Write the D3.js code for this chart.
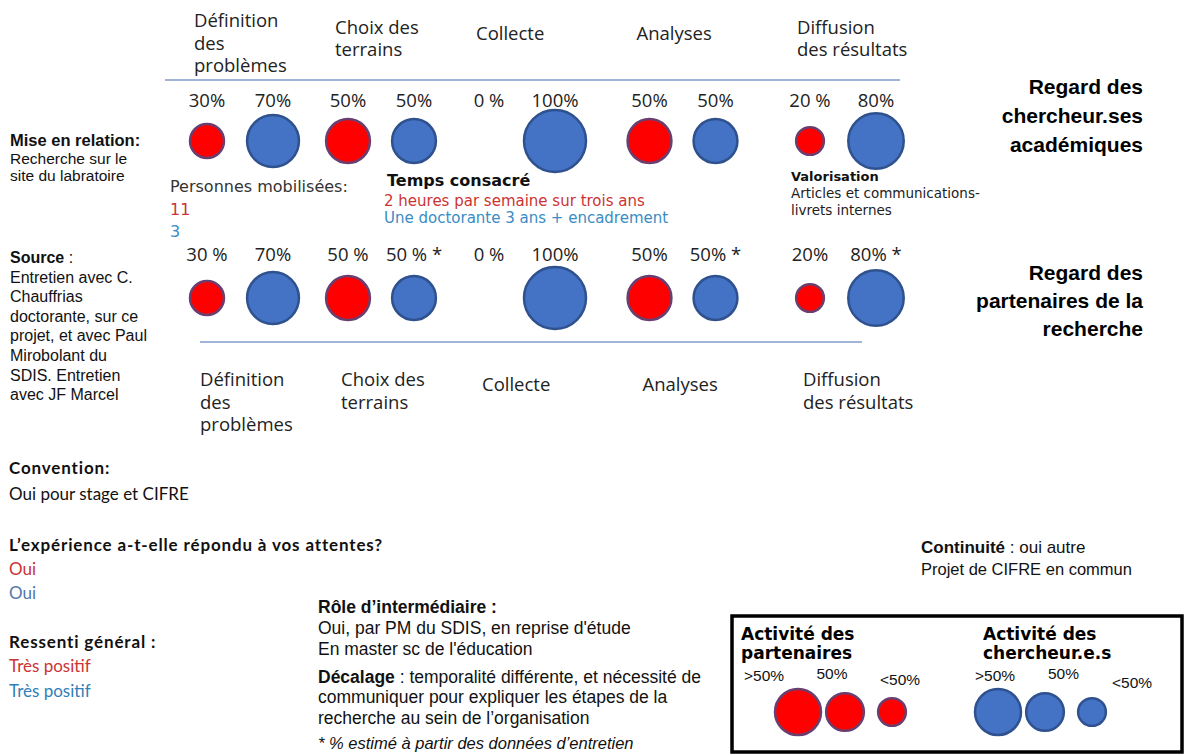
<!DOCTYPE html>
<html>
<head>
<meta charset="utf-8">
<script src="https://cdn.jsdelivr.net/npm/d3@7"></script>
<style>
  body { margin: 0; background: #fff; }
  svg { display: block; }
</style>
</head>
<body>
<div id="chart"></div>
<script>
// Data
const categories = [
  ["Définition", "des", "problèmes"],
  ["Choix des", "terrains"],
  ["Collecte"],
  ["Analyses"],
  ["Diffusion", "des résultats"]
];
// Regard des chercheur.ses académiques
const topPartner = [30, 50, 0, 50, 20];
const topResearcher = [70, 50, 100, 50, 80];
const topPartnerLabels = ["30%", "50%", "0 %", "50%", "20 %"];
const topResearcherLabels = ["70%", "50%", "100%", "50%", "80%"];
// Regard des partenaires de la recherche
const bottomPartner = [30, 50, 0, 50, 20];
const bottomResearcher = [70, 50, 100, 50, 80];
const bottomPartnerLabels = ["30 %", "50 %", "0 %", "50%", "20%"];
const bottomResearcherLabels = ["70%", "50 % *", "100%", "50% *", "80% *"];
// Legend
const legendLabels = [">50%", "50%", "<50%"];
const legendValues = [55, 37, 20];

const RED = "#ff0000", RED_STROKE = "#6a3f6f";
const BLUE = "#4472c4", BLUE_STROKE = "#2f528f";
const TXT_RED = "#cc3333", TXT_BLUE = "#3a8cc4";

const width = 1190, height = 755;
const svg = d3.select("#chart").append("svg")
  .attr("width", width).attr("height", height);

// Scales (polylinear: the five steps are not evenly spaced in the original)
const x = d3.scaleLinear().domain([0, 2, 4]).range([240, 522, 843]);
const r = d3.scaleSqrt().domain([0, 100]).range([0, 31]);
const pairOffset = 33; // red left, blue right of category centre

function lines(g, x0, y0, arr, lh, attrs) {
  const t = g.append("text").attr("x", x0).attr("y", y0);
  Object.entries(attrs).forEach(([k, v]) => t.style(k, v));
  arr.forEach((s, i) => {
    t.append("tspan").attr("x", x0).attr("y", y0 + i * lh).text(s);
  });
  return t;
}

function drawRow(cy, labelY, partner, researcher, pLabels, rLabels) {
  const g = svg.append("g");
  const rows = categories.map((c, i) => [
    { v: partner[i], lbl: pLabels[i], cx: x(i) - pairOffset, fill: RED, stroke: RED_STROKE },
    { v: researcher[i], lbl: rLabels[i], cx: x(i) + pairOffset, fill: BLUE, stroke: BLUE_STROKE }
  ]).flat();

  g.selectAll("circle").data(rows.filter(d => d.v > 0)).enter()
    .append("circle")
    .attr("cx", d => d.cx).attr("cy", cy).attr("r", d => r(d.v))
    .attr("fill", d => d.fill).attr("stroke", d => d.stroke).attr("stroke-width", 2.5);

  g.selectAll("text.pct").data(rows).enter()
    .append("text").attr("class", "pct")
    .attr("x", d => d.cx).attr("y", labelY)
    .attr("text-anchor", "middle")
    .style("font-family", "'Open Sans', sans-serif").style("font-size", "18.5px").style("fill", "#222")
    .text(d => d.lbl);
}

function drawCategories(yFn, shift) {
  const g = svg.append("g");
  categories.forEach((c, i) => {
    lines(g, x(i) - 46 + shift, yFn(c.length), c, 22.5,
      { "font-family": "'Open Sans', sans-serif", "font-size": "18.5px", "fill": "#222" });
  });
}

// Top block
drawCategories(n => 40 - (n - 1) * 6.5, 0);
svg.append("line").attr("x1", 165).attr("x2", 900).attr("y1", 80).attr("y2", 80)
  .attr("stroke", "#9fb4d6").attr("stroke-width", 2);
drawRow(141, 107, topPartner, topResearcher, topPartnerLabels, topResearcherLabels);

// Bottom block
drawRow(298, 261, bottomPartner, bottomResearcher, bottomPartnerLabels, bottomResearcherLabels);
svg.append("line").attr("x1", 200).attr("x2", 862).attr("y1", 342).attr("y2", 342)
  .attr("stroke", "#9fb4d6").attr("stroke-width", 2);
drawCategories(n => (n === 1 ? 391 : 386), 6);

// Right titles
const titleStyle = { "font-family": "'Liberation Sans', Arial, sans-serif", "font-size": "21px",
  "font-weight": "bold", "fill": "#000", "text-anchor": "end" };
lines(svg, 1143, 94, ["Regard des", "chercheur.ses", "académiques"], 29, titleStyle);
lines(svg, 1143, 280, ["Regard des", "partenaires de la", "recherche"], 28, titleStyle);

// Left notes
const arial = { "font-family": "'Liberation Sans', Arial, sans-serif", "font-size": "15.5px", "fill": "#111" };
lines(svg, 10, 146, ["Mise en relation:"], 17, Object.assign({}, arial, { "font-weight": "bold", "font-size": "16.5px" }));
lines(svg, 10, 163.5, ["Recherche sur le", "site du labratoire"], 17.5, arial);
const src = lines(svg, 10, 263, [], 17, Object.assign({}, arial, { "font-size": "16px" }));
src.append("tspan").attr("x", 10).attr("y", 263).style("font-weight", "bold").text("Source");
src.append("tspan").text(" :");
lines(svg, 10, 282.6, ["Entretien avec C.", "Chauffrias", "doctorante, sur ce", "projet, et avec Paul",
  "Mirobolant du", "SDIS. Entretien", "avec JF Marcel"], 19.6, Object.assign({}, arial, { "font-size": "16px" }));

// Personnes / Temps / Valorisation
const dv = { "font-family": "'DejaVu Sans', Verdana, sans-serif", "font-size": "16px", "fill": "#333" };
lines(svg, 170, 192, ["Personnes mobilisées:"], 18, dv);
lines(svg, 170, 215, ["11"], 18, Object.assign({}, dv, { fill: TXT_RED }));
lines(svg, 170, 237, ["3"], 18, Object.assign({}, dv, { fill: TXT_BLUE }));

lines(svg, 387, 186, ["Temps consacré"], 17, { "font-family": "'DejaVu Sans', sans-serif",
  "font-size": "16px", "font-weight": "bold", "fill": "#111" });
lines(svg, 384, 206, ["2 heures par semaine sur trois ans"], 17,
  { "font-family": "'DejaVu Sans', sans-serif", "font-size": "15px", "fill": TXT_RED });
lines(svg, 384, 223, ["Une doctorante 3 ans + encadrement"], 17,
  { "font-family": "'DejaVu Sans', sans-serif", "font-size": "15px", "fill": TXT_BLUE });

lines(svg, 791, 181, ["Valorisation"], 16, { "font-family": "'DejaVu Sans', sans-serif",
  "font-size": "13px", "font-weight": "bold", "fill": "#111" });
lines(svg, 791, 198, ["Articles et communications-", "livrets internes"], 16.5,
  { "font-family": "'DejaVu Sans', sans-serif", "font-size": "13.5px", "fill": "#222" });

// Bottom-left block (Calibri-like)
const os = { "font-family": "Lato, 'Open Sans', sans-serif", "font-size": "17px", "fill": "#111" };
const osb = Object.assign({}, os, { "font-weight": "bold", "letter-spacing": "0.85px" });
lines(svg, 9, 474, ["Convention:"], 20, osb);
lines(svg, 9, 500, ["Oui pour stage et CIFRE"], 20, os);
lines(svg, 9, 551, ["L’expérience a-t-elle répondu à vos attentes?"], 20, osb);
lines(svg, 9, 575, ["Oui"], 20, Object.assign({}, os, { fill: TXT_RED }));
lines(svg, 9, 599, ["Oui"], 20, Object.assign({}, os, { fill: "#5577aa" }));
lines(svg, 9, 648, ["Ressenti général :"], 20, osb);
lines(svg, 9, 672, ["Très positif"], 20, Object.assign({}, os, { fill: TXT_RED }));
lines(svg, 9, 697, ["Très positif"], 20, Object.assign({}, os, { fill: "#2f7fb8" }));

// Rôle d'intermédiaire
const ar = { "font-family": "'Liberation Sans', Arial, sans-serif", "font-size": "17.5px", "fill": "#111" };
lines(svg, 318, 613, ["Rôle d’intermédiaire :"], 20, Object.assign({}, ar, { "font-weight": "bold" }));
lines(svg, 318, 634, ["Oui, par PM du SDIS, en reprise d'étude", "En master sc de l'éducation"], 20.5, ar);
const dec = lines(svg, 318, 683, [], 20, ar);
dec.append("tspan").attr("x", 318).attr("y", 683).style("font-weight", "bold").text("Décalage");
dec.append("tspan").text(" : temporalité différente, et nécessité de");
lines(svg, 318, 703, ["communiquer pour expliquer les étapes de la", "recherche au sein de l’organisation"], 20.5, ar);
lines(svg, 318, 749, ["* % estimé à partir des données d’entretien"], 20,
  Object.assign({}, ar, { "font-style": "italic", "font-size": "16.5px" }));

// Continuité
const cont = lines(svg, 921, 553, [], 20, Object.assign({}, ar, { "font-size": "17px" }));
cont.append("tspan").attr("x", 921).attr("y", 553).style("font-weight", "bold").text("Continuité");
cont.append("tspan").text(" : oui autre");
lines(svg, 921, 575, ["Projet de CIFRE en commun"], 20, Object.assign({}, ar, { "font-size": "16.5px" }));

// Legend box
const leg = svg.append("g");
leg.append("rect").attr("x", 732).attr("y", 616).attr("width", 450).attr("height", 136)
  .attr("fill", "none").attr("stroke", "#000").attr("stroke-width", 3.5);

const legTitle = { "font-family": "'DejaVu Sans', sans-serif", "font-size": "17px",
  "font-weight": "bold", "fill": "#000" };
const legGroups = [
  { title: ["Activité des", "partenaires"], tx: 741, fill: RED, stroke: RED_STROKE,
    circles: [798, 892], labels: [764, 900], ly: [681, 679, 685] },
  { title: ["Activité des", "chercheur.e.s"], tx: 983, fill: BLUE, stroke: BLUE_STROKE,
    circles: [998, 1092], labels: [995, 1132], ly: [681, 679, 688] }
];
legGroups.forEach(gr => {
  lines(leg, gr.tx, 640, gr.title, 19, legTitle);
  const cx = d3.scalePoint().domain(legendLabels).range(gr.circles);
  const lx = d3.scalePoint().domain(legendLabels).range(gr.labels);
  leg.append("g").selectAll("circle").data(legendLabels).enter().append("circle")
    .attr("cx", d => cx(d)).attr("cy", 712)
    .attr("r", (d, i) => r(legendValues[i]))
    .attr("fill", gr.fill).attr("stroke", gr.stroke).attr("stroke-width", 2.5);
  leg.append("g").selectAll("text").data(legendLabels).enter().append("text")
    .attr("x", d => lx(d)).attr("y", (d, i) => gr.ly[i])
    .attr("text-anchor", "middle")
    .style("font-family", "'Liberation Sans', Arial, sans-serif").style("font-size", "15.5px")
    .style("fill", "#111").text(d => d);
});
</script>
</body>
</html>
